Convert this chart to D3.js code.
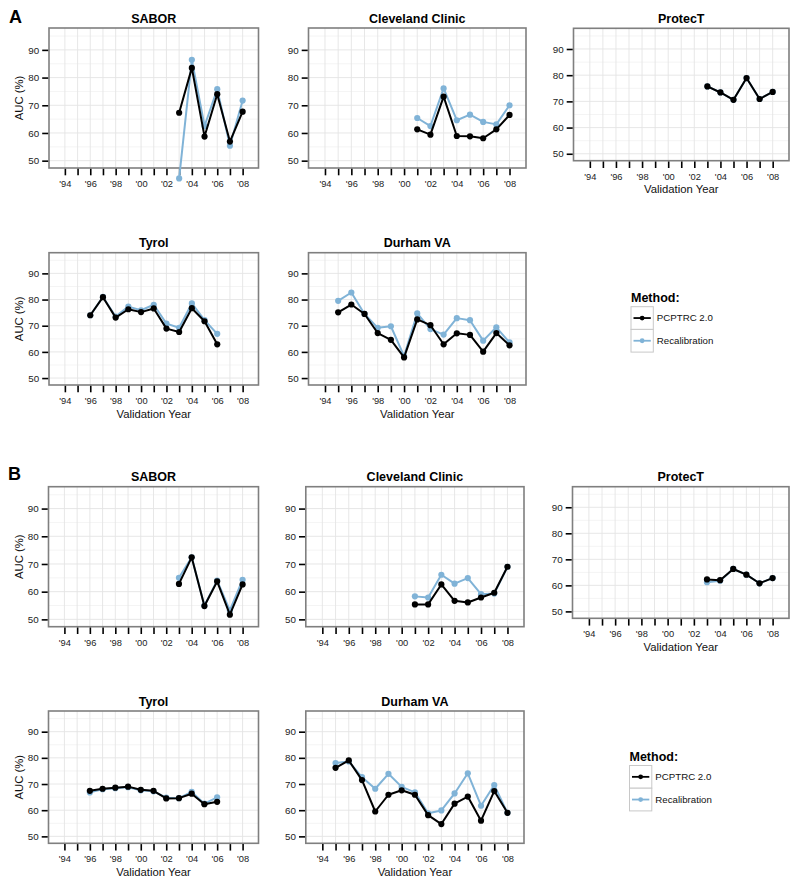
<!DOCTYPE html>
<html><head><meta charset="utf-8">
<script src="https://cdn.jsdelivr.net/npm/d3@7"></script>
<style>
body{margin:0;background:#fff;}
svg{display:block;font-family:"Liberation Sans",Arial,Helvetica,sans-serif;}
</style></head>
<body>
<svg id="chart" width="800" height="884"></svg>
<script>
// ---------- DATA ----------
const methods = ["PCPTRC 2.0", "Recalibration"];
const sites = ["SABOR", "Cleveland Clinic", "ProtecT", "Tyrol", "Durham VA"];
const tickYears = [1994,1995,1996,1997,1998,1999,2000,2001,2002,2003,2004,2005,2006,2007,2008];
const tickYearLabels = ["'94","","'96","","'98","","'00","","'02","","'04","","'06","","'08"];
const yTicks = [50, 60, 70, 80, 90];
const yMinorTicks = [55, 65, 75, 85, 95];

const yearsSABOR = [2003, 2004, 2005, 2006, 2007, 2008];
const yearsCleveland = [2001, 2002, 2003, 2004, 2005, 2006, 2007, 2008];
const yearsProtecT = [2003, 2004, 2005, 2006, 2007, 2008];
const yearsTyrol = [1996, 1997, 1998, 1999, 2000, 2001, 2002, 2003, 2004, 2005, 2006];
const yearsDurham = [1995, 1996, 1997, 1998, 1999, 2000, 2001, 2002, 2003, 2004, 2005, 2006, 2007, 2008];

// Panel A
const aSaborPCPTRC = [67.3, 83.5, 58.7, 74.0, 56.9, 67.7];
const aSaborRecal = [43.6, 86.4, 62.5, 75.8, 55.4, 71.7];
const aClevelandPCPTRC = [61.3, 59.4, 73.1, 58.9, 58.8, 58.1, 61.3, 66.5];
const aClevelandRecal = [65.4, 62.5, 76.1, 64.6, 66.6, 64.0, 63.1, 70.0];
const aProtecTPCPTRC = [75.7, 73.4, 70.6, 78.9, 70.9, 73.6];
const aProtecTRecal = [75.7, 73.4, 70.6, 78.9, 70.9, 73.6];
const aTyrolPCPTRC = [74.0, 80.9, 73.1, 76.3, 75.2, 76.6, 68.9, 67.6, 76.7, 71.7, 62.9];
const aTyrolRecal = [74.0, 81.0, 73.5, 77.3, 75.9, 78.0, 70.8, 69.2, 78.5, 72.1, 66.9];
const aDurhamPCPTRC = [75.1, 78.1, 74.5, 67.2, 64.6, 57.9, 72.4, 70.2, 62.9, 67.1, 66.5, 60.1, 67.2, 62.5];
const aDurhamRecal = [79.5, 82.7, 74.5, 69.2, 69.8, 58.4, 74.7, 68.7, 66.6, 72.9, 72.1, 64.3, 69.4, 63.6];

// Panel B
const bSaborPCPTRC = [62.8, 72.4, 54.8, 63.7, 51.7, 62.6];
const bSaborRecal = [65.0, 72.4, 55.0, 64.0, 53.2, 64.3];
const bClevelandPCPTRC = [55.4, 55.4, 62.6, 56.7, 56.1, 57.9, 59.6, 69.0];
const bClevelandRecal = [58.3, 57.9, 66.1, 62.9, 64.9, 59.1, 59.3, 69.0];
const bProtecTPCPTRC = [62.3, 62.0, 66.3, 64.1, 60.8, 62.8];
const bProtecTRecal = [61.2, 61.8, 66.3, 64.1, 60.8, 62.8];
const bTyrolPCPTRC = [67.4, 68.2, 68.6, 69.0, 67.8, 67.4, 64.5, 64.6, 66.3, 62.3, 63.2];
const bTyrolRecal = [66.8, 68.0, 68.4, 68.8, 67.6, 67.2, 64.8, 64.6, 67.0, 62.5, 64.9];
const bDurhamPCPTRC = [76.2, 79.0, 71.5, 59.5, 65.9, 67.6, 65.9, 58.1, 54.7, 62.5, 65.2, 56.0, 67.3, 59.0];
const bDurhamRecal = [78.0, 78.6, 72.6, 68.2, 73.9, 68.9, 66.8, 58.8, 59.9, 66.4, 74.1, 61.7, 69.6, 59.0];

// ---------- LAYOUT ----------
const colors = {"PCPTRC 2.0": "#000000", "Recalibration": "#80b3d7"};
const xDomain = [1992.75, 2009.25];
const yDomain = [47.35, 97.9];

const panels = [
  {site: sites[0], x0: 49, x1: 258.5, y0: 28, y1: 168, yTitle: true, xTitle: false, years: yearsSABOR, p: aSaborPCPTRC, r: aSaborRecal},
  {site: sites[1], x0: 308.5, x1: 526, y0: 28, y1: 168, yTitle: false, xTitle: false, years: yearsCleveland, p: aClevelandPCPTRC, r: aClevelandRecal},
  {site: sites[2], x0: 573.5, x1: 789, y0: 28.3, y1: 160.7, yTitle: false, xTitle: true, years: yearsProtecT, p: aProtecTPCPTRC, r: aProtecTRecal},
  {site: sites[3], x0: 49, x1: 258.5, y0: 252.7, y1: 385, yTitle: true, xTitle: true, years: yearsTyrol, p: aTyrolPCPTRC, r: aTyrolRecal},
  {site: sites[4], x0: 308.5, x1: 526, y0: 252.7, y1: 385, yTitle: false, xTitle: true, years: yearsDurham, p: aDurhamPCPTRC, r: aDurhamRecal},
  {site: sites[0], x0: 48.5, x1: 258.5, y0: 486.7, y1: 626.7, yTitle: true, xTitle: false, years: yearsSABOR, p: bSaborPCPTRC, r: bSaborRecal},
  {site: sites[1], x0: 305.8, x1: 524, y0: 486.7, y1: 626.7, yTitle: false, xTitle: false, years: yearsCleveland, p: bClevelandPCPTRC, r: bClevelandRecal},
  {site: sites[2], x0: 572.5, x1: 789, y0: 486.7, y1: 618.3, yTitle: false, xTitle: true, years: yearsProtecT, p: bProtecTPCPTRC, r: bProtecTRecal},
  {site: sites[3], x0: 48.5, x1: 258.5, y0: 711, y1: 843.3, yTitle: true, xTitle: true, years: yearsTyrol, p: bTyrolPCPTRC, r: bTyrolRecal},
  {site: sites[4], x0: 305.8, x1: 524, y0: 711, y1: 843.3, yTitle: false, xTitle: true, years: yearsDurham, p: bDurhamPCPTRC, r: bDurhamRecal}
];

const svg = d3.select("#chart");

// block letters
svg.append("text").attr("x", 9).attr("y", 23).attr("font-size", 18).attr("font-weight", "bold").text("A");
svg.append("text").attr("x", 8).attr("y", 479.5).attr("font-size", 18).attr("font-weight", "bold").text("B");

panels.forEach(pn => {
  const g = svg.append("g");
  const x = d3.scaleLinear().domain(xDomain).range([pn.x0, pn.x1]);
  const y = d3.scaleLinear().domain(yDomain).range([pn.y1, pn.y0]);

  // background
  g.append("rect").attr("x", pn.x0).attr("y", pn.y0).attr("width", pn.x1 - pn.x0).attr("height", pn.y1 - pn.y0).attr("fill", "#fff");
  // minor grid
  g.selectAll(".hmin").data(yMinorTicks.filter(v => y(v) > pn.y0)).enter().append("line")
    .attr("x1", pn.x0).attr("x2", pn.x1).attr("y1", d => y(d)).attr("y2", d => y(d))
    .attr("stroke", "#f1f1f1").attr("stroke-width", 0.8);
  // major grid
  g.selectAll(".hmaj").data(yTicks).enter().append("line")
    .attr("x1", pn.x0).attr("x2", pn.x1).attr("y1", d => y(d)).attr("y2", d => y(d))
    .attr("stroke", "#e4e4e4").attr("stroke-width", 0.9);
  g.selectAll(".vmaj").data(tickYears).enter().append("line")
    .attr("y1", pn.y0).attr("y2", pn.y1).attr("x1", d => x(d)).attr("x2", d => x(d))
    .attr("stroke", "#e4e4e4").attr("stroke-width", 0.9);

  // border
  g.append("rect").attr("x", pn.x0).attr("y", pn.y0).attr("width", pn.x1 - pn.x0).attr("height", pn.y1 - pn.y0)
    .attr("fill", "none").attr("stroke", "#7f7f7f").attr("stroke-width", 1.6);

  // x axis
  const xAxis = d3.axisBottom(x).tickValues(tickYears).tickSize(6.5).tickPadding(5)
    .tickFormat((d, i) => tickYearLabels[i]);
  const xa = g.append("g").attr("transform", `translate(0,${pn.y1 + 0.8})`).call(xAxis);
  xa.select(".domain").remove();
  xa.selectAll(".tick line").attr("stroke", "#000").attr("stroke-width", 1.6);
  xa.selectAll(".tick text").attr("font-size", 9.3).attr("fill", "#222").attr("font-family", "Liberation Sans, Arial, sans-serif");

  // y axis
  const yAxis = d3.axisLeft(y).tickValues(yTicks).tickSize(6).tickPadding(3).tickFormat(d3.format("d"));
  const ya = g.append("g").attr("transform", `translate(${pn.x0 - 0.8},0)`).call(yAxis);
  ya.select(".domain").remove();
  ya.selectAll(".tick line").attr("stroke", "#000").attr("stroke-width", 1.6);
  ya.selectAll(".tick text").attr("font-size", 9.8).attr("fill", "#222").attr("font-family", "Liberation Sans, Arial, sans-serif");

  // titles
  g.append("text").attr("x", (pn.x0 + pn.x1) / 2).attr("y", pn.y0 - 5.5).attr("text-anchor", "middle")
    .attr("font-size", 12.5).attr("font-weight", "bold").text(pn.site);
  if (pn.yTitle) {
    g.append("text").attr("transform", `translate(23,${(pn.y0 + pn.y1) / 2}) rotate(-90)`)
      .attr("text-anchor", "middle").attr("font-size", 11.3).attr("fill", "#111").text("AUC (%)");
  }
  if (pn.xTitle) {
    g.append("text").attr("x", (pn.x0 + pn.x1) / 2).attr("y", pn.y1 + 32.5).attr("text-anchor", "middle")
      .attr("font-size", 11.3).attr("fill", "#111").text("Validation Year");
  }

  // series: recalibration first, then PCPTRC on top
  const series = [
    {name: methods[1], vals: pn.r},
    {name: methods[0], vals: pn.p}
  ];
  const line = d3.line().x(d => x(d[0])).y(d => y(d[1]));
  series.forEach(s => {
    const pts = pn.years.map((yr, i) => [yr, s.vals[i]]);
    g.append("path").datum(pts).attr("d", line).attr("fill", "none")
      .attr("stroke", colors[s.name]).attr("stroke-width", 2).attr("stroke-linejoin", "round");
    g.selectAll(null).data(pts).enter().append("circle")
      .attr("cx", d => x(d[0])).attr("cy", d => y(d[1])).attr("r", 3.1).attr("fill", colors[s.name]);
  });
});

// legends
function legend(lx, ly) {
  const g = svg.append("g");
  g.append("text").attr("x", lx).attr("y", ly).attr("font-size", 12.5).attr("font-weight", "bold").text("Method:");
  const bh = 22.7, bw = 22.3, top = ly + 5;
  methods.forEach((m, i) => {
    const by = top + i * bh;
    g.append("rect").attr("x", lx).attr("y", by).attr("width", bw).attr("height", bh)
      .attr("fill", "#fff").attr("stroke", "#c8c8c8").attr("stroke-width", 1);
    g.append("line").attr("x1", lx + 2.5).attr("x2", lx + bw - 2.5).attr("y1", by + bh / 2).attr("y2", by + bh / 2)
      .attr("stroke", colors[m]).attr("stroke-width", 1.8);
    g.append("circle").attr("cx", lx + bw / 2).attr("cy", by + bh / 2).attr("r", 2.4).attr("fill", colors[m]);
    g.append("text").attr("x", lx + bw + 3.5).attr("y", by + bh / 2 + 3.4).attr("font-size", 9.7).attr("fill", "#111").text(m);
  });
}
legend(631, 301.7);
legend(629.5, 760.5);
</script>
</body></html>
